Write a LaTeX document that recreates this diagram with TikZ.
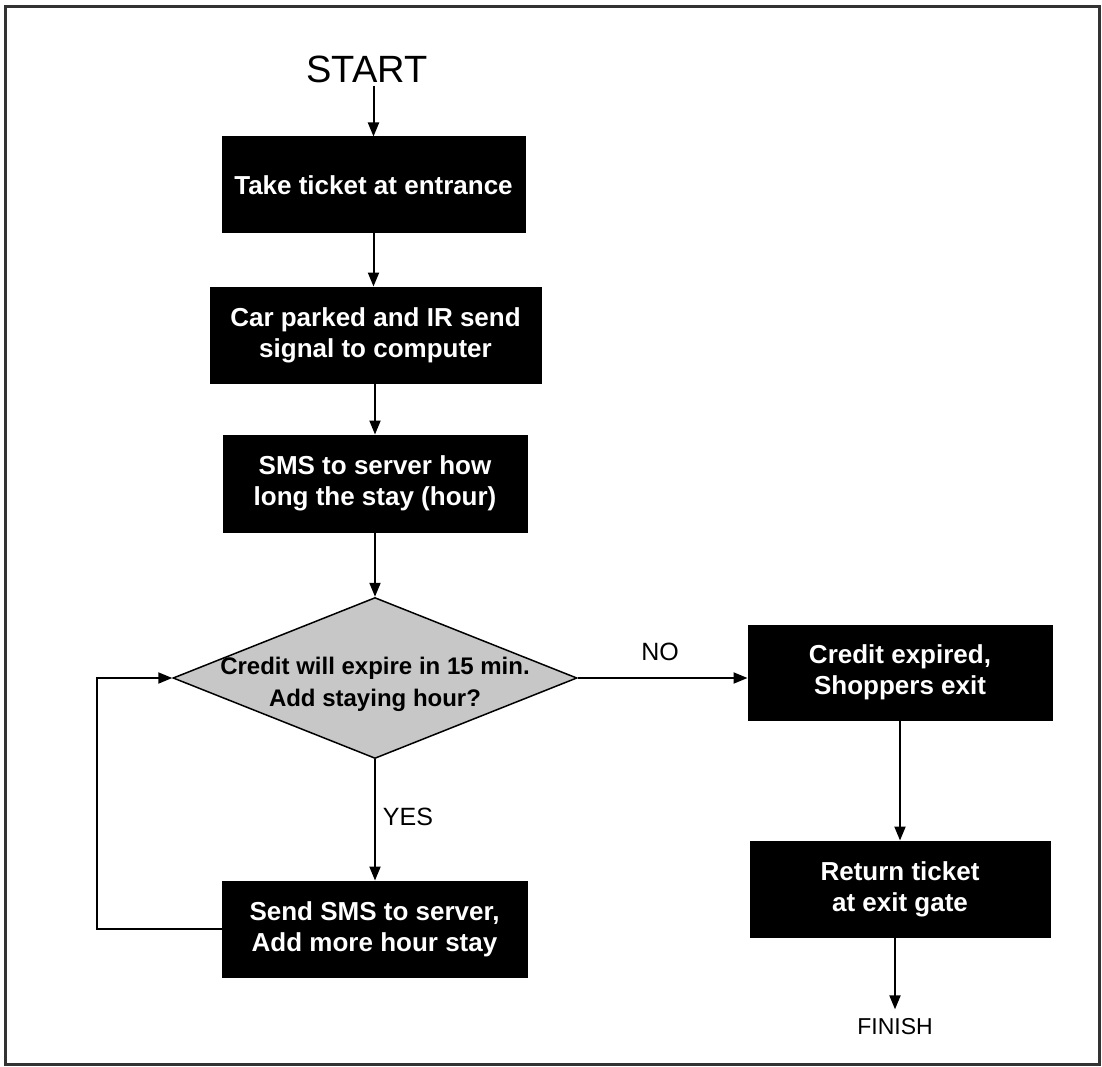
\documentclass[tikz,border=0pt]{standalone}
\usepackage{fontspec}
\setmainfont{Liberation Sans}
\usetikzlibrary{arrows.meta,shapes.geometric}
\begin{document}
\begin{tikzpicture}[x=1pt,y=-1pt,
  procbox/.style={draw=black, fill=black, text=white, font=\fontsize{26}{31}\selectfont\bfseries, align=center, inner sep=0pt, line width=1pt},
  decision/.style={diamond, draw=black, fill=black!22, line width=1.5pt, inner sep=0pt, minimum width=404pt, minimum height=161pt},
  dectext/.style={font=\fontsize{24}{32}\selectfont\bfseries, align=center, text=black},
  lbl/.style={font=\fontsize{25}{30}\selectfont, text=black},
  flow/.style={draw=black, line width=2pt, -{Triangle[length=14pt,width=11pt]}},
  frameline/.style={draw=black!80, line width=3pt}
]
\useasboundingbox (0,0) rectangle (1102,1067);
\draw[frameline] (5.5,6.5) rectangle (1099.5,1064.5);

\node[lbl, font=\fontsize{38}{44}\selectfont, inner sep=3pt] (start) at (367,69) {START};
\node[procbox, minimum width=303pt, minimum height=96pt] (b1) at (373.5,185) {Take ticket at entrance};
\node[procbox, minimum width=331pt, minimum height=96pt] (b2) at (375.5,335) {Car parked and IR send\\signal to computer};
\node[procbox, minimum width=304pt, minimum height=97pt] (b3) at (375,483.5) {SMS to server how\\long the stay (hour)};
\node[decision] (dec) at (375,678) {};
\node[dectext] (dect) at (375,684) {Credit will expire in 15 min.\\Add staying hour?};
\node[procbox, minimum width=305pt, minimum height=96pt] (b4) at (374.5,929) {Send SMS to server,\\Add more hour stay};
\node[procbox, minimum width=304pt, minimum height=95pt] (b5) at (900,672.5) {Credit expired,\\Shoppers exit};
\node[procbox, minimum width=300pt, minimum height=96pt] (b6) at (900,889) {Return ticket\\at exit gate};
\node[lbl, font=\fontsize{23}{28}\selectfont] (fin) at (895,1027) {FINISH};
\node[lbl] (yes) at (408,817) {YES};
\node[lbl] (no) at (660,652) {NO};

\draw[flow] (start.south -| b1.north) -- (b1.north);
\draw[flow] (b1.south) -- (b1.south |- b2.north);
\draw[flow] (b2.south -| b3.north) -- (b3.north);
\draw[flow] (b3.south) -- (dec.north);
\draw[flow] (dec.south) -- (dec.south |- b4.north);
\draw[flow] (dec.east) -- (dec.east -| b5.west);
\draw[flow] (b5.south -| b6.north) -- (b6.north);
\draw[flow, shorten >=6pt] (b6.south -| fin.north) -- (fin.north);
\draw[flow] (b4.west) -- ++(-125,0) |- (dec.west);
\end{tikzpicture}
\end{document}
